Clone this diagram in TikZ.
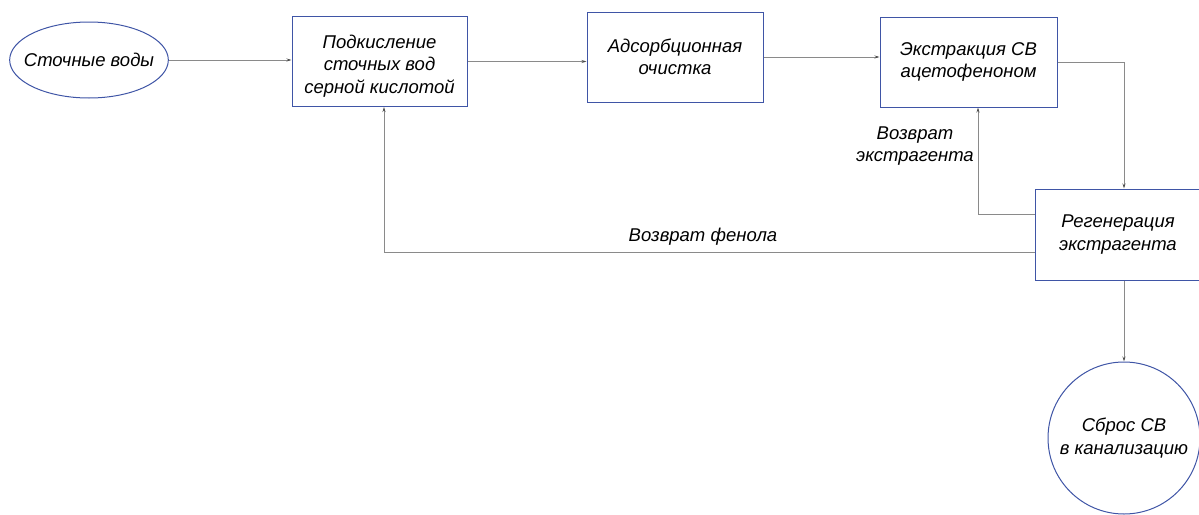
\documentclass[tikz,border=0pt]{standalone}
\usepackage{fontspec}
\setmainfont{Liberation Sans}
\usetikzlibrary{arrows.meta,shapes.geometric,calc}
\definecolor{boxblue}{HTML}{3F55A6}
\definecolor{linegray}{HTML}{8A8A8A}
\tikzset{
  every node/.style={font=\fontsize{18.5}{22.5}\selectfont\itshape},
  blk/.style={draw=boxblue, line width=1pt, align=center, inner sep=0pt},
  arr/.style={draw=linegray, line width=0.9pt, -{Stealth[length=5pt,width=3pt,color=black!70]}},
  lbl/.style={align=center, inner sep=0pt},
}
\begin{document}
\begin{tikzpicture}[x=1pt,y=-1pt]
\useasboundingbox (0,0) rectangle (1199,514);
\clip (0,0) rectangle (1199,514);
\node[blk, ellipse, inner xsep=-9pt, minimum width=158pt, minimum height=76pt] (e) at (89,60) {Сточные воды};
\node[blk, minimum width=175pt, minimum height=90pt] (b1) at (379.5,61.5) {\raisebox{-4.5pt}[\height][\depth]{\begin{tabular}{@{}c@{}}Подкисление\\сточных вод\\серной кислотой\end{tabular}}};
\node[blk, minimum width=176pt, minimum height=90pt] (b2) at (675,57) {Адсорбционная\\очистка};
\node[blk, minimum width=177pt, minimum height=90pt] (b3) at (968.5,62) {Экстракция СВ\\ацетофеноном};
\node[blk, minimum width=166pt, minimum height=91pt] (b4) at (1118,234.5) {Регенерация\\экстрагента};
\node[blk, circle, minimum size=152pt] (cir) at (1124,438) {Сброс СВ\\в канализацию};
\coordinate (r1) at (978,214);
\coordinate (r2) at (384,252);
\draw[arr] (e.east) -- (e.east -| b1.west);
\draw[arr] (b1.east) -- (b1.east -| b2.west);
\draw[arr] (b2.east) -- (b2.east -| b3.west);
\draw[arr] (b3.east) -| (cir.north |- b4.north);
\draw[arr] (cir.north |- b4.south) -- (cir.north);
\draw[arr] (b4.west |- r1) -- (r1) -- (r1 |- b3.south);
\draw[arr] (b4.west |- r2) -- (r2) -- (r2 |- b1.south);
\node[lbl] (l1) at (915,146) {Возврат\\экстрагента};
\node[lbl] (l2) at (703,237) {Возврат фенола};
\end{tikzpicture}
\end{document}
